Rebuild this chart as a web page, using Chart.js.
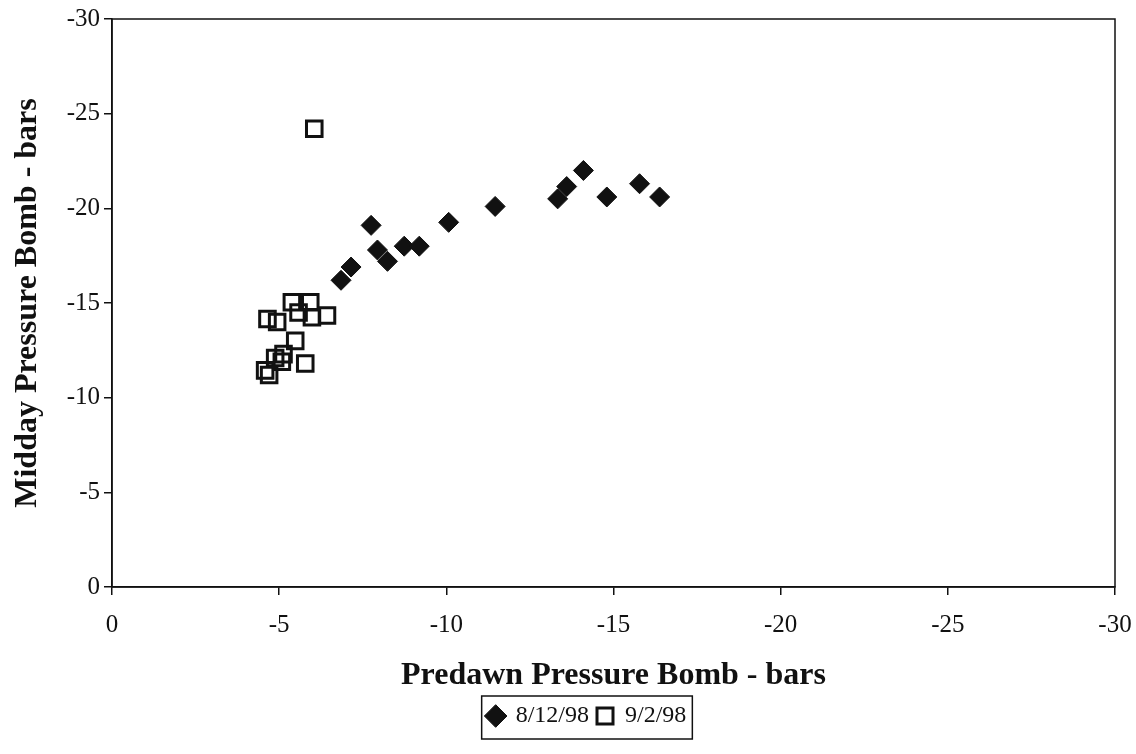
<!DOCTYPE html>
<html lang="en">
<head>
    <meta charset="UTF-8">
    <title>Pressure Bomb Scatter</title>
    <script src="https://cdn.jsdelivr.net/npm/chart.js"></script>
    <style>
        html, body { margin: 0; padding: 0; background: #fff; }
        #wrap { width: 1136px; height: 754px; }
    </style>
</head>
<body>
    <div id="wrap"><canvas id="bombChart" width="1136" height="754"></canvas></div>

    <script>
        // series 1: 8/12/98 (filled diamonds)
        const aug12Predawn = [-6.85, -7.15, -7.75, -7.94, -8.24, -8.74, -9.19, -10.07, -11.46, -13.33, -13.6, -14.1, -14.8, -15.78, -16.38];
        const aug12Midday  = [-16.2, -16.9, -19.1, -17.8, -17.2, -18.0, -18.0, -19.26, -20.1, -20.5, -21.15, -22.0, -20.6, -21.3, -20.6];

        // series 2: 9/2/98 (open squares)
        const sep2Predawn = [-4.65, -4.94, -5.38, -5.93, -5.58, -5.98, -6.43, -5.48, -5.13, -4.88, -5.08, -5.78, -4.58, -4.7, -6.05];
        const sep2Midday  = [-14.16, -14.0, -15.04, -15.04, -14.5, -14.25, -14.34, -13.0, -12.3, -12.1, -11.9, -11.8, -11.44, -11.2, -24.2];

        const seriesLabels = ['8/12/98', '9/2/98'];
        const axisMin = -30, axisMax = 0, axisStep = 5;

        function toPoints(xs, ys) {
            return xs.map((x, i) => ({ x: x, y: ys[i] }));
        }

        const serif = "'Liberation Serif', 'DejaVu Serif', serif";

        // frame around the plot area plus a box around the legend
        const framePlugin = {
            id: 'frame',
            afterLayout(chart) {
                // legend sits a little left of the page centre in the original
                chart.legend.left += 19;
                chart.legend.right += 19;
            },
            afterDraw(chart) {
                const ctx = chart.ctx;
                const a = chart.chartArea;
                ctx.save();
                ctx.strokeStyle = '#111';
                ctx.lineWidth = 1.5;
                ctx.strokeRect(a.left, a.top, a.right - a.left, a.bottom - a.top);

                const boxes = chart.legend.legendHitBoxes;
                if (boxes && boxes.length) {
                    let l = Infinity, r = -Infinity, t = Infinity, b = -Infinity;
                    boxes.forEach(h => {
                        l = Math.min(l, h.left); r = Math.max(r, h.left + h.width);
                        t = Math.min(t, h.top); b = Math.max(b, h.top + h.height);
                    });
                    ctx.lineWidth = 1.5;
                    ctx.strokeRect(l - 6, t - 8, r - l + 12, b - t + 19);
                }
                ctx.restore();
            }
        };

        const ctx = document.getElementById('bombChart').getContext('2d');
        new Chart(ctx, {
            type: 'scatter',
            data: {
                datasets: [{
                    label: seriesLabels[0],
                    data: toPoints(aug12Predawn, aug12Midday),
                    pointStyle: 'rectRot',
                    pointRadius: 10,
                    backgroundColor: '#111',
                    borderColor: '#111',
                    borderWidth: 1
                }, {
                    label: seriesLabels[1],
                    data: toPoints(sep2Predawn, sep2Midday),
                    pointStyle: 'rect',
                    pointRadius: 11,
                    backgroundColor: 'rgba(255,255,255,0)',
                    borderColor: '#111',
                    borderWidth: 3
                }]
            },
            options: {
                responsive: false,
                animation: false,
                events: [],
                layout: { padding: { top: 4, right: 0, bottom: 16, left: 0 } },
                scales: {
                    x: {
                        type: 'linear',
                        reverse: true,
                        min: axisMin,
                        max: axisMax,
                        ticks: {
                            stepSize: axisStep,
                            color: '#111',
                            padding: 15,
                            font: { family: serif, size: 25 }
                        },
                        grid: { display: true, drawOnChartArea: false, tickLength: 8, color: '#111', lineWidth: 1.5 },
                        border: { display: true, color: '#111', width: 1.5 },
                        title: {
                            display: true,
                            text: 'Predawn Pressure Bomb - bars',
                            color: '#111',
                            padding: { top: 16, bottom: 1 },
                            font: { family: serif, size: 32, weight: 'bold' }
                        },
                        afterFit(scale) {
                            scale.height = 109;
                            scale.paddingRight = 21;
                        }
                    },
                    y: {
                        type: 'linear',
                        reverse: true,
                        min: axisMin,
                        max: axisMax,
                        ticks: {
                            stepSize: axisStep,
                            color: '#111',
                            padding: 4,
                            font: { family: serif, size: 25 }
                        },
                        grid: { display: true, drawOnChartArea: false, tickLength: 8, color: '#111', lineWidth: 1.5 },
                        border: { display: true, color: '#111', width: 1.5 },
                        title: {
                            display: true,
                            text: 'Midday Pressure Bomb - bars',
                            color: '#111',
                            padding: { top: 9, bottom: 0 },
                            font: { family: serif, size: 32, weight: 'bold' }
                        },
                        afterFit(scale) { scale.width = 112; }
                    }
                },
                plugins: {
                    legend: {
                        position: 'bottom',
                        labels: {
                            usePointStyle: true,
                            boxWidth: 16,
                            boxHeight: 16,
                            padding: 8,
                            color: '#111',
                            font: { family: serif, size: 24 }
                        }
                    },
                    tooltip: { enabled: false }
                }
            },
            plugins: [framePlugin]
        });
    </script>
</body>
</html>
